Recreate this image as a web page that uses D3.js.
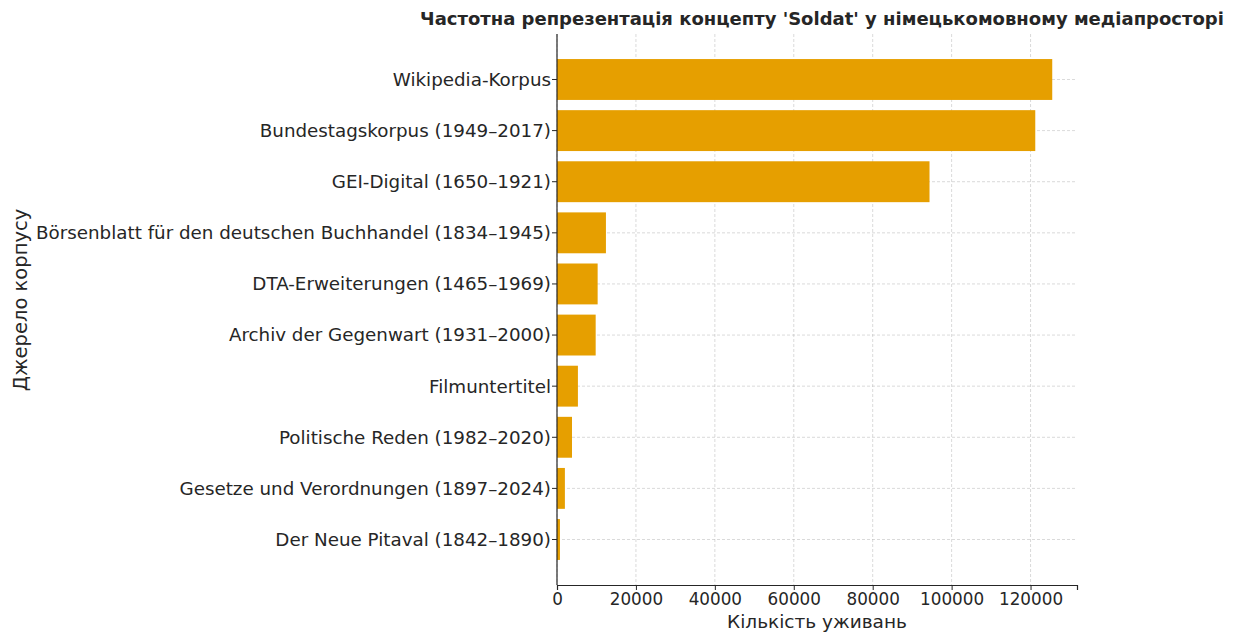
<!DOCTYPE html>
<html><head><meta charset="utf-8">
<script src="https://cdn.jsdelivr.net/npm/d3@7"></script>
<style>
body{margin:0;background:#fff;}
text{font-family:"DejaVu Sans",sans-serif;fill:#262626;}
</style></head>
<body><svg id="c" width="1242" height="637"></svg>
<script>
const categories = [
  "Wikipedia-Korpus",
  "Bundestagskorpus (1949–2017)",
  "GEI-Digital (1650–1921)",
  "Börsenblatt für den deutschen Buchhandel (1834–1945)",
  "DTA-Erweiterungen (1465–1969)",
  "Archiv der Gegenwart (1931–2000)",
  "Filmuntertitel",
  "Politische Reden (1982–2020)",
  "Gesetze und Verordnungen (1897–2024)",
  "Der Neue Pitaval (1842–1890)"
];
const values = [125500, 121200, 94400, 12400, 10300, 9800, 5300, 3800, 2000, 750];
const xTicks = [0, 20000, 40000, 60000, 80000, 100000, 120000];
const title = "Частотна репрезентація концепту 'Soldat' у німецькомовному медіапросторі";
const xLabel = "Кількість уживань";
const yLabel = "Джерело корпусу";

const svg = d3.select("#c");
const L = 557, R = 1077, T = 34, B = 585;
const n = categories.length;
const x = d3.scaleLinear().domain([0, d3.max(values) * 1.05]).range([L, R]);
const yc = d3.scaleLinear().domain([-0.89, n - 1 + 0.89]).range([T, B]);
const bh = (yc(0.8) - yc(0));

// grid
const g = svg.append("g");
g.selectAll("line.v").data(xTicks).join("line")
  .attr("x1", d => x(d)).attr("x2", d => x(d)).attr("y1", T).attr("y2", B)
  .attr("stroke", "#b0b0b0").attr("stroke-opacity", 0.6).attr("stroke-width", 0.8).attr("stroke-dasharray", "3,2");
g.selectAll("line.h").data(categories).join("line")
  .attr("x1", L).attr("x2", R).attr("y1", (d, i) => yc(i)).attr("y2", (d, i) => yc(i))
  .attr("stroke", "#b0b0b0").attr("stroke-opacity", 0.6).attr("stroke-width", 0.8).attr("stroke-dasharray", "3,2");

// bars
svg.append("g").selectAll("rect").data(values).join("rect")
  .attr("x", x(0)).attr("y", (d, i) => yc(i) - bh / 2)
  .attr("width", d => x(d) - x(0)).attr("height", bh)
  .attr("fill", "#E69F00");

// axes
const xa = svg.append("g").attr("transform", `translate(0,${B})`)
  .call(d3.axisBottom(x).tickValues(xTicks).tickFormat(d3.format("d")).tickSizeOuter(0).tickSize(5).tickPadding(3));
xa.selectAll("text").style("font-size", "16.8px").attr("fill", "#262626");
xa.select(".domain").attr("stroke", "#262626").attr("stroke-width", 1.2);
xa.selectAll(".tick line").attr("stroke", "#262626");

const ya = svg.append("g").attr("transform", `translate(${L},0)`);
ya.append("line").attr("x1", 0).attr("x2", 0).attr("y1", T).attr("y2", B).attr("stroke", "#262626").attr("stroke-width", 1.2);
const yt = ya.selectAll("g.t").data(categories).join("g").attr("transform", (d, i) => `translate(0,${yc(i)})`);
yt.append("line").attr("x1", -5).attr("x2", 0).attr("stroke", "#262626");
yt.append("text").attr("x", -6).attr("dy", "0.35em").attr("text-anchor", "end")
  .style("font-size", "18.3px").text(d => d);

// labels
svg.append("text").attr("x", 822).attr("y", 25).attr("text-anchor", "middle")
  .style("font-size", "18px").style("font-weight", "bold").text(title);
svg.append("text").attr("x", (L + R) / 2).attr("y", 628).attr("text-anchor", "middle")
  .style("font-size", "18.5px").text(xLabel);
svg.append("text").attr("transform", `translate(27,300) rotate(-90)`).attr("text-anchor", "middle")
  .style("font-size", "19.5px").text(yLabel);
</script></body></html>
